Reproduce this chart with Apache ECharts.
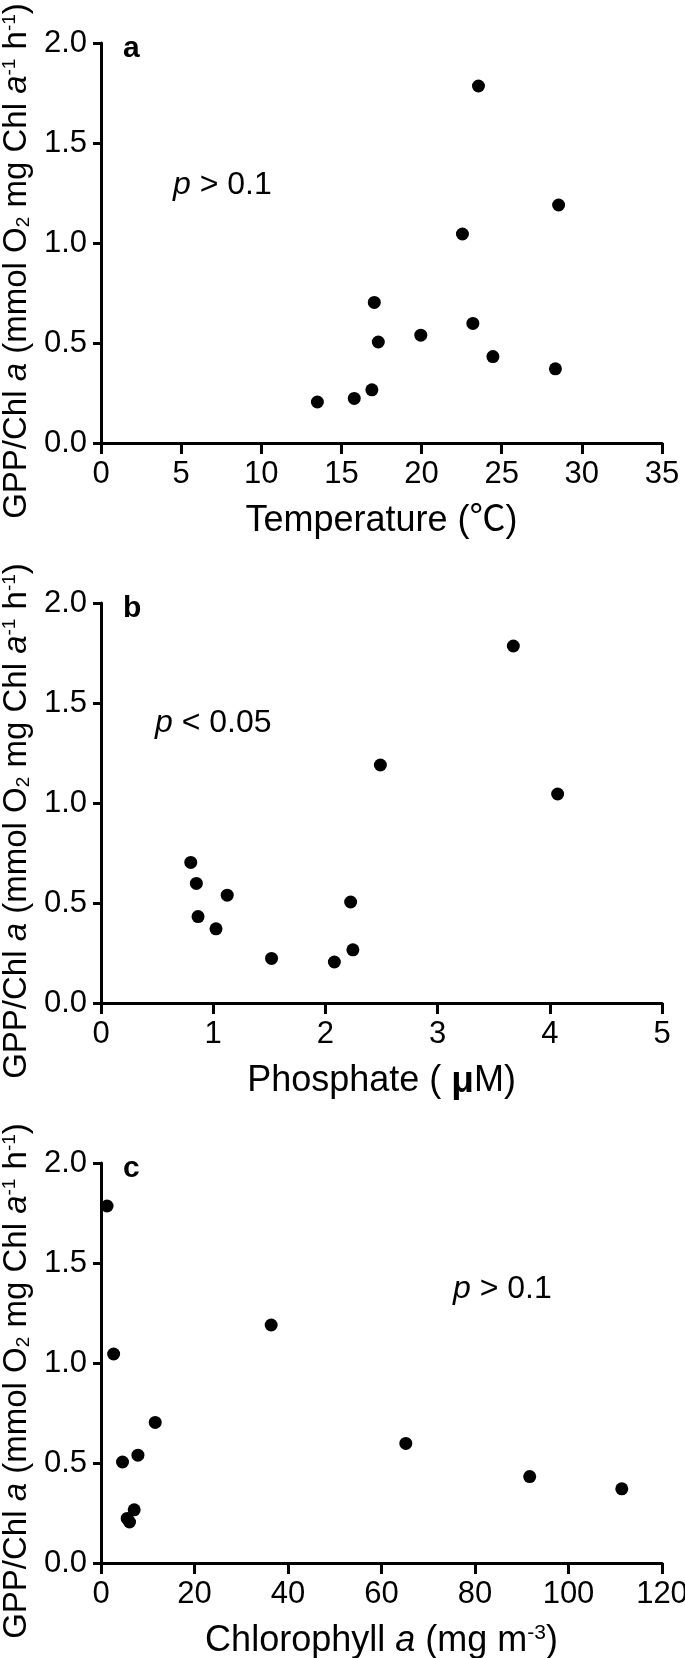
<!DOCTYPE html>
<html>
<head>
<meta charset="utf-8">
<script src="https://cdn.jsdelivr.net/npm/echarts@6/dist/echarts.min.js"></script>
<style>
  html, body { margin: 0; padding: 0; background: #fff; }
  #chart { width: 685px; height: 1658px; }
</style>
</head>
<body>
<div id="chart"></div>
<script>
// GPP/Chl a per sample, same sample order in every driver array
const gpp = [0.205, 0.223, 0.266, 0.703, 0.505, 0.539, 1.045, 0.598, 1.785, 0.432, 0.371, 1.19]
const temperature = [13.5, 15.8, 16.9, 17.05, 17.3, 19.95, 22.55, 23.2, 23.55, 24.45, 28.35, 28.55]
const phosphate = [2.08, 1.52, 2.245, 0.80, 2.225, 1.125, 4.07, 0.85, 3.675, 0.865, 1.025, 2.49]
const chlorophyll = [6.1, 5.6, 7.1, 11.6, 4.6, 7.9, 2.7, 65.2, 1.3, 91.7, 111.4, 36.4]

const panelLetters = ['a', 'b', 'c']
const pTexts = ['{i|p} > 0.1', '{i|p} < 0.05', '{i|p} > 0.1']
const xNames = ['Temperature (℃)', 'Phosphate ( {b|μ}M)', 'Chlorophyll {i|a} (mg m{sup|-3})']
const xRanges = [[0, 35, 5], [0, 5, 1], [0, 120, 20]]
const yName = 'GPP/Chl {i|a} (mmol O{sub|2} mg Chl {i|a}{sup|-1} h{sup|-1})'

const FONT = 'Liberation Sans, Arial, Noto Sans CJK SC, sans-serif'
const plotTops = [43, 603, 1163]
const pPos = [[173, 169], [155, 707], [453, 1273]]

function richFor(size) {
  return {
    i: { fontStyle: 'italic', fontSize: size, fontFamily: FONT, fill: '#000', color: '#000' },
    b: { fontWeight: 'bold', fontSize: size + 1, fontFamily: FONT, fill: '#000', color: '#000' },
    sub: { fontSize: Math.round(size * 0.58), fontFamily: FONT, verticalAlign: 'bottom', fill: '#000', color: '#000' },
    sup: { fontSize: Math.round(size * 0.58), fontFamily: FONT, verticalAlign: 'top', fill: '#000', color: '#000' }
  }
}

const chart = echarts.init(document.getElementById('chart'))

const axisLine = { lineStyle: { color: '#000', width: 3 } }
const tickLabel = { color: '#000', fontSize: 31, fontFamily: FONT }

chart.setOption({
  animation: false,
  backgroundColor: '#fff',
  grid: plotTops.map(t => ({
    left: 101, top: t, width: 561, height: 400,
    containLabel: false, outerBoundsMode: 'none'
  })),
  title: [
    ...panelLetters.map((l, i) => ({
      text: l, left: 123, top: plotTops[i] - 9, padding: 0,
      textStyle: { fontSize: 30, fontWeight: 'bold', fontFamily: FONT, color: '#000' }
    })),
    ...pTexts.map((t, i) => ({
      text: t, left: pPos[i][0], top: pPos[i][1], padding: 0,
      textStyle: { fontSize: 32, fontWeight: 'normal', fontFamily: FONT, color: '#000', rich: richFor(32) }
    }))
  ],
  // rotated y-axis titles, one per panel
  graphic: plotTops.map(t => ({
    type: 'text', x: 17, y: t + 218, rotation: Math.PI / 2,
    style: {
      text: yName, align: 'center', verticalAlign: 'middle',
      fontSize: 33, fontFamily: FONT, fill: '#000', rich: richFor(33)
    }
  })),
  xAxis: xRanges.map((r, i) => ({
    type: 'value', gridIndex: i, min: r[0], max: r[1], interval: r[2],
    axisLine, splitLine: { show: false },
    axisTick: { length: 11, lineStyle: { color: '#000', width: 3 } },
    axisLabel: { ...tickLabel, margin: 16 },
    name: xNames[i], nameLocation: 'middle', nameGap: 60,
    nameTextStyle: { fontSize: 36, fontFamily: FONT, color: '#000', rich: richFor(36) }
  })),
  yAxis: plotTops.map((t, i) => ({
    type: 'value', gridIndex: i, min: 0, max: 2, interval: 0.5,
    axisLine, splitLine: { show: false },
    axisTick: { length: 8, lineStyle: { color: '#000', width: 3 } },
    axisLabel: { ...tickLabel, margin: 14, formatter: v => v.toFixed(1) }
  })),
  series: [temperature, phosphate, chlorophyll].map((xs, i) => ({
    type: 'scatter', xAxisIndex: i, yAxisIndex: i,
    symbol: 'circle', symbolSize: 13,
    itemStyle: { color: '#000', opacity: 1 },
    data: xs.map((x, k) => [x, gpp[k]])
  }))
})
</script>
</body>
</html>
